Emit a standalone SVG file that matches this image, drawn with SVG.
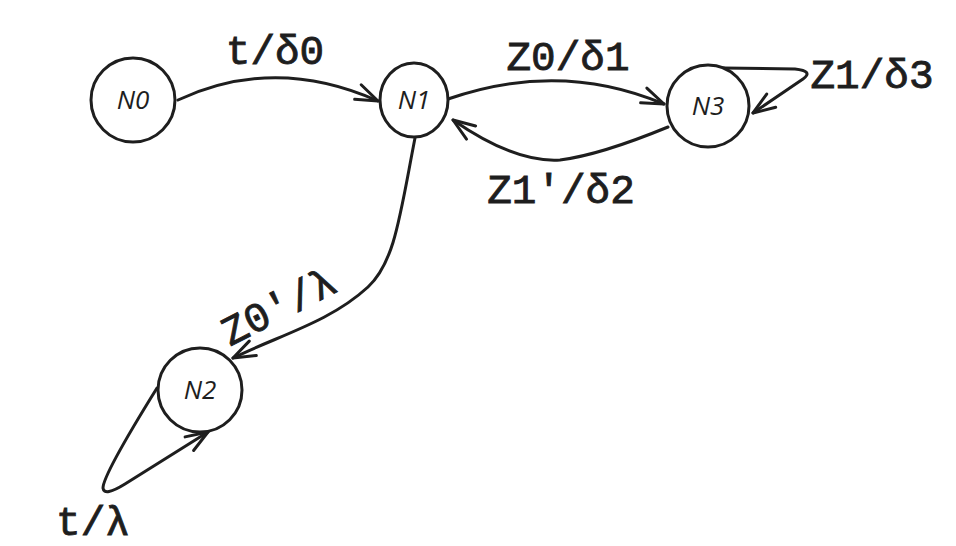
<svg xmlns="http://www.w3.org/2000/svg" width="956" height="546" viewBox="0 0 956 546">
<style>
.node{fill:#fff;stroke:#1e1e1e;stroke-width:3}
.nl{font-family:"Open Sans","DejaVu Sans",sans-serif;font-style:italic;font-size:26px;fill:#1e1e1e;text-anchor:middle}
.edge{fill:none;stroke:#1e1e1e;stroke-width:3;stroke-linecap:round;stroke-linejoin:round}
.el{font-family:"Liberation Mono","DejaVu Sans Mono",monospace;font-size:41px;fill:#1e1e1e;stroke:#1e1e1e;stroke-width:0.9;text-anchor:middle}
</style>
<defs>
<marker id="ah" markerUnits="userSpaceOnUse" viewBox="-24 -10 28 20" refX="0" refY="0" markerWidth="28" markerHeight="20" orient="auto" overflow="visible">
<path d="M-22,-8 L0,0 L-22,8" fill="none" stroke="#1e1e1e" stroke-width="3" stroke-linecap="round" stroke-linejoin="round"/>
</marker>
</defs>
<rect width="956" height="546" fill="#fff"/>
<g id="connectors">
<path id="e-n0-n1" class="edge" d="M178 100 Q275 55 378 101" marker-end="url(#ah)"/>
<path id="e-n1-n3" class="edge" d="M448 99 Q560 60 664 104" marker-end="url(#ah)"/>
<path id="e-n3-n1" class="edge" d="M668 127 Q600 155 560 160 Q515 163 453 120" marker-end="url(#ah)"/>
<path id="e-n3-n3" class="edge" d="M723 68 L795 69 Q814 71 803 79 L753 113" marker-end="url(#ah)"/>
<path id="e-n1-n2" class="edge" d="M415 138 C400 215 395 262 368 287 C330 322 280 335 233 358" marker-end="url(#ah)"/>
<path id="e-n2-n2" class="edge" d="M157 388 Q103 475 103 488 Q104 497 125 484 L208 432" marker-end="url(#ah)"/>
<text class="el" x="275" y="64">t/δ0</text>
<text class="el" x="568" y="70">Z0/δ1</text>
<text class="el" x="872" y="88">Z1/δ3</text>
<text class="el" x="561" y="203">Z1'/δ2</text>
<text class="el" x="93" y="535">t/λ</text>
<text class="el" transform="translate(279 307) rotate(-27)" x="0" y="13">Z0'/λ</text>
</g>
<g id="N0"><circle class="node" cx="133" cy="100" r="42"/><text class="nl" x="133" y="109">N0</text></g>
<g id="N1"><ellipse class="node" cx="414" cy="100" rx="34" ry="37"/><text class="nl" x="414" y="109">N1</text></g>
<g id="N3"><circle class="node" cx="708" cy="106" r="41"/><text class="nl" x="708" y="115">N3</text></g>
<g id="N2"><circle class="node" cx="200" cy="390" r="42"/><text class="nl" x="200" y="399">N2</text></g>
</svg>
